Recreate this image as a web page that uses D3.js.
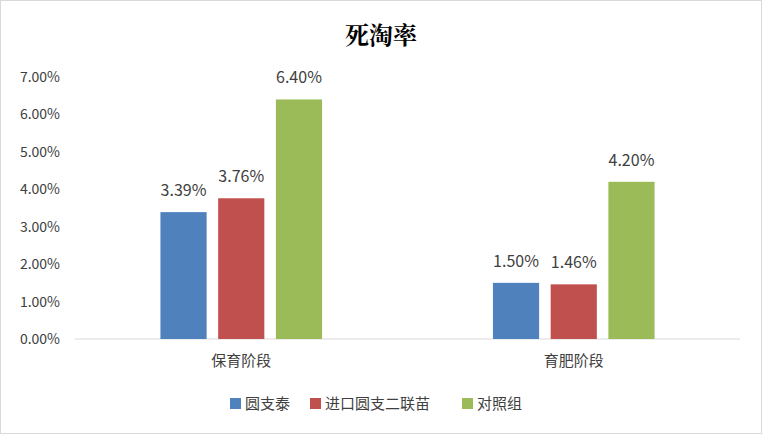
<!DOCTYPE html><html><head><meta charset="utf-8"><script src="https://cdn.jsdelivr.net/npm/d3@7"></script>
<style>body{margin:0;background:#fff}</style></head><body><svg id="c" width="762" height="434"></svg>
<script>
const categories=["保育阶段","育肥阶段"];
const seriesNames=["圆支泰","进口圆支二联苗","对照组"];
const values=[[3.39,1.50],[3.76,1.46],[6.40,4.20]];
const yTicks=[0,1,2,3,4,5,6,7];
const colors=["#4F81BD","#C0504D","#9BBB59"];
const svg=d3.select("#c");
const F="'Noto Sans CJK SC','Noto Sans',sans-serif";
svg.append("rect").attr("x",0.5).attr("y",0.5).attr("width",761).attr("height",433).attr("fill","#fff").attr("stroke","#d9d9d9");
svg.append("text").attr("x",381).attr("y",44).attr("text-anchor","middle").attr("font-family","'Noto Serif CJK SC','Noto Sans CJK SC',serif").attr("font-weight","bold").attr("font-size",24).attr("fill","#000").text("死淘率");
const x=d3.scaleBand().domain(categories).range([75,740]);
const xi=d3.scaleBand().domain(seriesNames).range([0,x.bandwidth()]).paddingInner(0.2).paddingOuter(1.48);
const y=d3.scaleLinear().domain([0,7]).range([339,77]);
const g=svg.append("g");
yTicks.forEach(t=>g.append("text").attr("x",60).attr("y",y(t)+5).attr("text-anchor","end").attr("font-family",F).attr("font-size",14).attr("fill","#404040").text(t.toFixed(2)+"%"));
g.append("line").attr("x1",75).attr("x2",740).attr("y1",y(0)).attr("y2",y(0)).attr("stroke","#d9d9d9");
seriesNames.forEach((s,si)=>categories.forEach((c,ci)=>{
 const v=values[si][ci],bx=x(c)+xi(s);
 g.append("rect").attr("x",bx).attr("y",y(v)).attr("width",xi.bandwidth()).attr("height",y(0)-y(v)).attr("fill",colors[si]);
 g.append("text").attr("x",bx+xi.bandwidth()/2).attr("y",y(v)-16).attr("text-anchor","middle").attr("font-family",F).attr("font-size",16).attr("fill","#404040").text(v.toFixed(2)+"%");
}));
categories.forEach(c=>g.append("text").attr("x",x(c)+x.bandwidth()/2).attr("y",366).attr("text-anchor","middle").attr("font-family",F).attr("font-size",15).attr("fill","#404040").text(c));
const lx=[230,310,462];
seriesNames.forEach((s,i)=>{
 g.append("rect").attr("x",lx[i]).attr("y",398).attr("width",11).attr("height",11).attr("fill",colors[i]);
 g.append("text").attr("x",lx[i]+15).attr("y",409).attr("font-family",F).attr("font-size",15).attr("fill","#404040").text(s);
});
</script></body></html>
